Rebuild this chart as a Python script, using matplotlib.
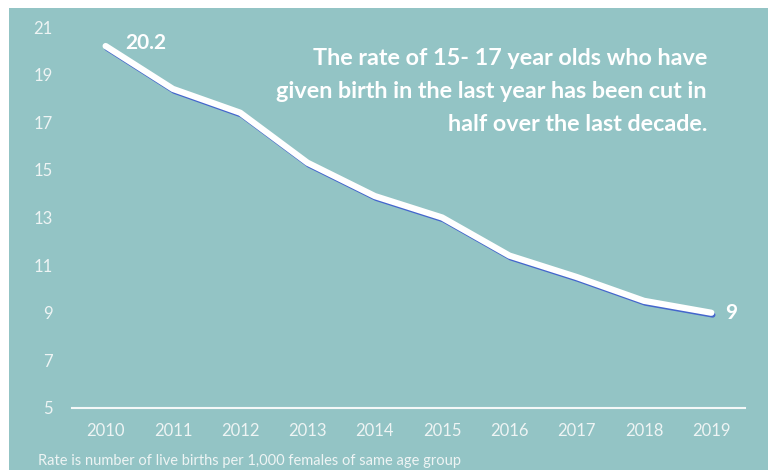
import matplotlib.pyplot as plt
import matplotlib.patches as patches

years = [2010, 2011, 2012, 2013, 2014, 2015, 2016, 2017, 2018, 2019]
rates = [20.2, 18.4, 17.4, 15.3, 13.9, 13.0, 11.4, 10.5, 9.5, 9.0]
yticks = [5, 7, 9, 11, 13, 15, 17, 19, 21]

bg = '#93c4c5'
txt = '#eef4f4'
plt.rcParams['font.family'] = ['Lato', 'DejaVu Sans']

fig = plt.figure(figsize=(7.68, 4.70), dpi=100)
fig.patch.set_facecolor('white')
# teal panel with a thin white margin top/left
fig.add_artist(patches.Rectangle((9 / 768, 0), 1, 1 - 8 / 470, transform=fig.transFigure,
                                 facecolor=bg, edgecolor='none', zorder=0))

ax = fig.add_axes([72 / 768, 1 - 408 / 470, (745 - 72) / 768, (408 - 27) / 470])
ax.set_facecolor('none')
ax.set_xlim(2009.5, 2019.5)
ax.set_ylim(5, 21)

# blue shadow under the white line
ax.plot([y + 0.02 for y in years], [r - 0.09 for r in rates], color='#4466cc', lw=4,
        solid_capstyle='round', solid_joinstyle='round')
ax.plot(years, rates, color='white', lw=4.5, solid_capstyle='round', solid_joinstyle='round')

ax.set_xticks(years)
ax.set_xticklabels([str(y) for y in years])
ax.set_yticks(yticks)
ax.tick_params(colors=txt, labelsize=12, length=0)
ax.tick_params(axis='x', pad=11)
ax.tick_params(axis='y', pad=14)
for s in ['top', 'right', 'left']:
    ax.spines[s].set_visible(False)
ax.spines['bottom'].set_color('#f4f8f8')
ax.spines['bottom'].set_linewidth(1.5)

ax.annotate('20.2', (years[0], rates[0]), xytext=(14, 2), textcoords='offset points',
            color='white', fontsize=15, fontweight='bold', va='center', ha='left')
ax.annotate('9', (years[-1], rates[-1]), xytext=(10, 0), textcoords='offset points',
            color='white', fontsize=15, fontweight='bold', va='center', ha='left')

fig.text(707 / 768, 1 - 48 / 470,
         'The rate of 15- 17 year olds who have\ngiven birth in the last year has been cut in\nhalf over the last decade.',
         ha='right', va='top', color='white', fontsize=16.8, fontweight='bold',
         linespacing=1.72, transform=fig.transFigure)
fig.text(38 / 768, 1 - 461 / 470, 'Rate is number of live births per 1,000 females of same age group',
         ha='left', va='center', color=txt, fontsize=10.5)

fig.savefig('out.png', dpi=100, facecolor=fig.get_facecolor())
